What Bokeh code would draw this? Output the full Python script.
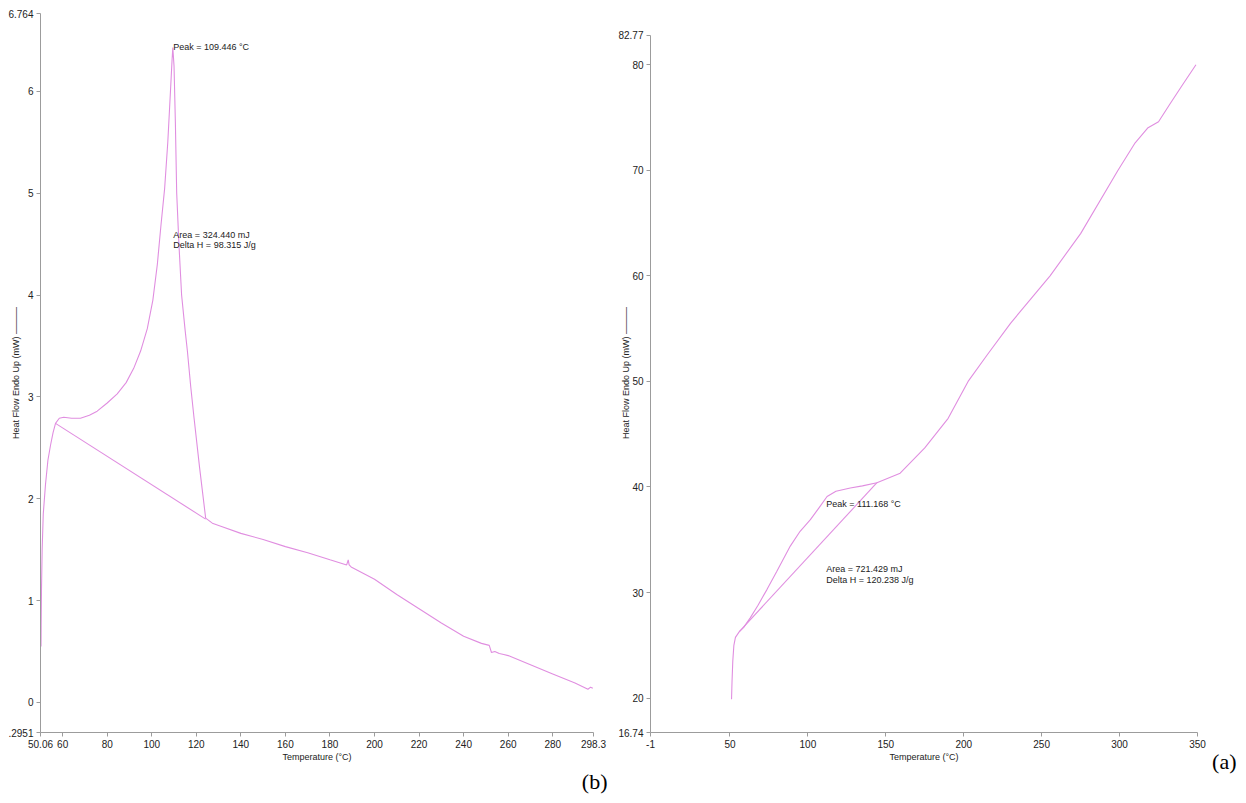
from bokeh.plotting import figure
from bokeh.layouts import row
from bokeh.models import Range1d, FixedTicker, Title
from bokeh.core.properties import value
from bokeh.embed import file_html
from bokeh.resources import INLINE

# ---- panel (b): left DSC curve ----
b_temp = [50.3, 50.35, 50.5, 50.8, 51.3, 52.3, 53.4, 54.6, 55.7, 56.8, 58.5, 60.5, 64.0, 68.0, 72.0,
          75.5, 80.0, 84.5, 88.5, 91.9, 95.0, 98.0, 100.5, 102.5, 104.2, 105.8, 107.2, 108.4, 109.1,
          109.45, 110.0, 110.6, 111.2, 112.2, 113.4, 115.0, 116.0, 117.5, 119.0, 121.5, 124.2, 127.2,
          131.0, 140, 150, 160, 170, 180, 187.5, 188.2, 188.6, 189.5, 200, 210, 220, 230, 240, 248,
          251.5, 252.5, 254, 256, 258, 260, 270, 280, 290, 295.8, 297, 298.0]
b_heat = [0.55, 0.75, 1.1, 1.5, 1.85, 2.14, 2.38, 2.53, 2.65, 2.74, 2.79, 2.80, 2.79, 2.79, 2.82,
          2.86, 2.94, 3.03, 3.14, 3.28, 3.45, 3.67, 3.95, 4.30, 4.70, 5.05, 5.50, 6.00, 6.30,
          6.43, 6.25, 5.70, 5.00, 4.50, 4.00, 3.65, 3.45, 3.10, 2.79, 2.30, 1.81, 1.76,
          1.73, 1.66, 1.60, 1.53, 1.47, 1.40, 1.35, 1.40, 1.35, 1.33, 1.21, 1.06, 0.92, 0.78, 0.65, 0.58,
          0.56, 0.49, 0.50, 0.48, 0.47, 0.46, 0.37, 0.28, 0.19, 0.13, 0.15, 0.14]
b_base_temp = [56.8, 124.2]
b_base_heat = [2.74, 1.80]
b_xticks = [50.06, 60, 80, 100, 120, 140, 160, 180, 200, 220, 240, 260, 280, 298.3]
b_xlabels = ["50.06", "60", "80", "100", "120", "140", "160", "180", "200", "220", "240", "260", "280", "298.3"]
b_yticks = [-0.2951, 0, 1, 2, 3, 4, 5, 6, 6.764]
b_ylabels = [".2951", "0", "1", "2", "3", "4", "5", "6", "6.764"]

# ---- panel (a): right DSC curve ----
a_temp = [51.0, 51.3, 51.8, 52.5, 53.5, 56.0, 58.8, 63.0, 68.0, 73.8, 80.0, 88.7, 95.0, 101.6, 107.0,
          112.3, 118.0, 127.2, 135.0, 144.3, 159.2, 175.0, 190.0, 202.8, 215.0, 230.0, 255.4, 275.0,
          299.0, 310.0, 318.0, 325.0, 332.0, 340.0, 349.0]
a_heat = [19.9, 21.5, 23.5, 25.0, 25.75, 26.3, 26.7, 27.6, 28.8, 30.3, 32.0, 34.4, 35.8, 36.9, 38.0,
          39.1, 39.6, 39.9, 40.1, 40.4, 41.3, 43.7, 46.5, 50.0, 52.5, 55.5, 60.0, 64.0,
          70.0, 72.6, 74.0, 74.6, 76.2, 78.0, 80.0]
a_base_temp = [56.0, 144.3]
a_base_heat = [26.3, 40.4]
a_xticks = [-1, 50, 100, 150, 200, 250, 300, 350]
a_xlabels = ["-1", "50", "100", "150", "200", "250", "300", "350"]
a_yticks = [16.74, 20, 30, 40, 50, 60, 70, 80, 82.77]
a_ylabels = ["16.74", "20", "30", "40", "50", "60", "70", "80", "82.77"]

CURVE = "#e08ee0"
AXIS = "#9c9c9c"
FONT = "Liberation Sans"
YTITLE = "Heat Flow Endo Up (mW) \u2014\u2014\u2014"


def style(p, xt, xl, yt, yl):
    p.outline_line_color = None
    p.xgrid.visible = False
    p.ygrid.visible = False
    p.background_fill_color = "white"
    p.border_fill_color = "white"
    p.xaxis.ticker = FixedTicker(ticks=xt)
    p.yaxis.ticker = FixedTicker(ticks=yt)
    p.xaxis.major_label_overrides = {t: s for t, s in zip(xt, xl)}
    p.yaxis.major_label_overrides = {t: s for t, s in zip(yt, yl)}
    p.yaxis.bounds = (yt[0], yt[-1])
    for ax in (p.xaxis, p.yaxis):
        ax.axis_line_color = AXIS
        ax.major_tick_line_color = AXIS
        ax.minor_tick_line_color = None
        ax.major_tick_out = 4
        ax.major_tick_in = 0
        ax.major_label_text_font = FONT
        ax.major_label_text_font_size = "10px"
        ax.major_label_text_color = "#222222"
        ax.axis_label_text_font = FONT
        ax.axis_label_text_font_size = "9px"
        ax.axis_label_text_font_style = "normal"
        ax.axis_label_text_color = "#222222"
    p.xaxis.axis_label = "Temperature (\u00b0C)"
    p.xaxis.axis_label_standoff = 1
    p.xaxis.major_label_standoff = 3
    p.yaxis.axis_label = YTITLE
    p.yaxis.axis_label_standoff = -16
    p.yaxis.major_label_standoff = 3


p1 = figure(width=615, height=803, x_range=Range1d(50.06, 298.3), y_range=Range1d(-0.2951, 6.764),
            output_backend="svg", toolbar_location=None,
            min_border_left=40, min_border_right=22, min_border_top=13, min_border_bottom=71)
style(p1, b_xticks, b_xlabels, b_yticks, b_ylabels)
p1.line(b_temp, b_heat, line_color=CURVE, line_width=1.1)
p1.line(b_base_temp, b_base_heat, line_color=CURVE, line_width=1.1)
p1.text(x=[109.6], y=[6.44], text=["Peak = 109.446 \u00b0C"], text_font=value(FONT),
        text_font_size="9px", text_baseline="middle", text_color="#222222")
p1.text(x=[109.7, 109.7], y=[4.59, 4.49], text=["Area = 324.440 mJ", "Delta H = 98.315 J/g"],
        text_font=value(FONT), text_font_size="9px", text_baseline="middle", text_color="#222222")
p1.add_layout(Title(text="(b)", align="right", offset=-14, standoff=4, text_font="Liberation Serif",
                    text_font_size="22px", text_font_style="normal", text_color="black"), "below")

# y range extends above 82.77 so the frame top lines up with the left panel; axis stops at 82.77
p2 = figure(width=631, height=803, x_range=Range1d(-1, 350), y_range=Range1d(16.74, 84.85),
            output_backend="svg", toolbar_location=None,
            min_border_left=35, min_border_right=49, min_border_top=13, min_border_bottom=71)
style(p2, a_xticks, a_xlabels, a_yticks, a_ylabels)
p2.line(a_temp, a_heat, line_color=CURVE, line_width=1.1)
p2.line(a_base_temp, a_base_heat, line_color=CURVE, line_width=1.1)
p2.text(x=[111.8], y=[38.38], text=["Peak = 111.168 \u00b0C"], text_font=value(FONT),
        text_font_size="9px", text_baseline="middle", text_color="#222222")
p2.text(x=[111.8, 111.8], y=[32.2, 31.2], text=["Area = 721.429 mJ", "Delta H = 120.238 J/g"],
        text_font=value(FONT), text_font_size="9px", text_baseline="middle", text_color="#222222")
p2.add_layout(Title(text="(a)", align="right", offset=-39, standoff=-31, vertical_align="top",
                    text_font="Liberation Serif", text_font_size="22px", text_font_style="normal",
                    text_color="black"), "below")

layout = row(p1, p2)
open("out.html", "w").write(file_html(layout, INLINE))
